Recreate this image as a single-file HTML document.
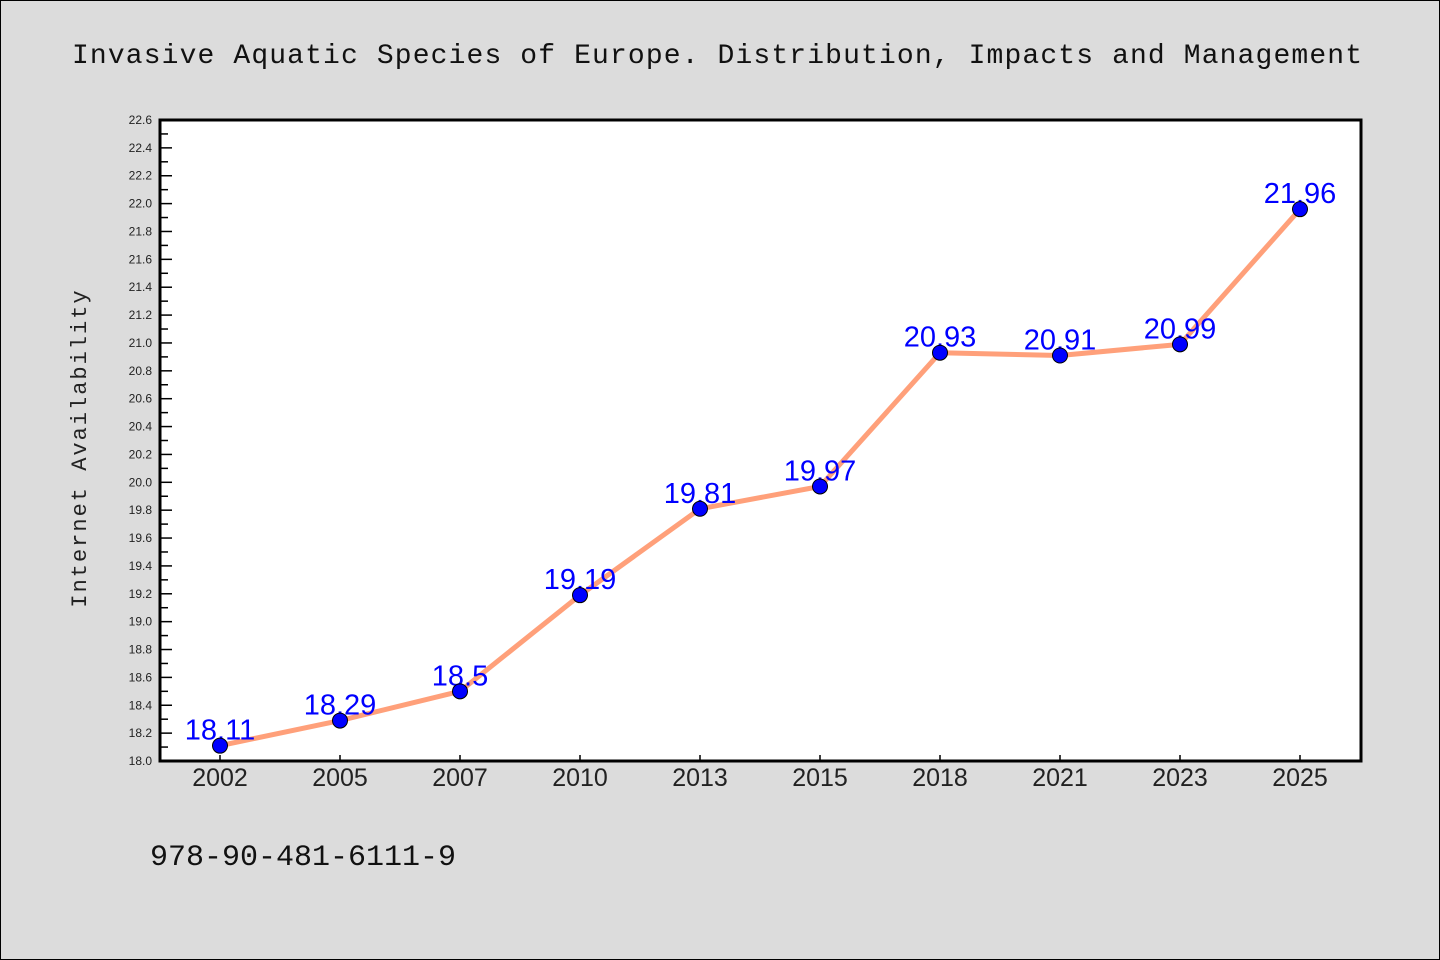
<!DOCTYPE html>
<html><head><meta charset="utf-8"><style>
body{margin:0;background:#dcdcdc;}
svg{display:block;}
</style></head><body>
<svg width="1440" height="960" xmlns="http://www.w3.org/2000/svg">
<rect x="0.5" y="0.5" width="1439" height="959" fill="#dcdcdc" stroke="#000"/>
<text x="72" y="63" textLength="1290" lengthAdjust="spacing" font-family="Liberation Mono, monospace" font-size="28" fill="#111">Invasive Aquatic Species of Europe. Distribution, Impacts and Management</text>
<rect x="160" y="120" width="1201" height="641" fill="#fff"/>
<g id="ticks"></g>
<g id="series"></g>
<rect x="160" y="120" width="1201" height="641" fill="none" stroke="#000" stroke-width="3"/>
<text transform="translate(86,448) rotate(-90)" text-anchor="middle" font-family="Liberation Mono, monospace" font-size="22" letter-spacing="2" fill="#222">Internet Availability</text>
<text x="150" y="865" font-family="Liberation Mono, monospace" font-size="30" fill="#111">978-90-481-6111-9</text>
</svg>
<script>
const categories=["2002","2005","2007","2010","2013","2015","2018","2021","2023","2025"];
const values=[18.11,18.29,18.5,19.19,19.81,19.97,20.93,20.91,20.99,21.96];
const labels=["18.11","18.29","18.5","19.19","19.81","19.97","20.93","20.91","20.99","21.96"];
const yMin=18.0,yMax=22.6;
const NS="http://www.w3.org/2000/svg";
const L=160,R=1361,T=120,B=761;
const xs=i=>220+i*(1300-220)/(categories.length-1);
const ys=v=>B-(v-yMin)/(yMax-yMin)*(B-T);
const tg=document.getElementById('ticks');
function mk(tag,a,p){const e=document.createElementNS(NS,tag);for(const k in a)e.setAttribute(k,a[k]);p.appendChild(e);return e;}
for(let k=0;k<=46;k++){
  const v=yMin+k*0.1,y=ys(v),major=k%2===0;
  const t=mk('line',{x1:L,x2:L+(major?12:8),y1:y,y2:y,stroke:'#000','stroke-width':1.5},tg);
  
  
  if(major){
    const tx=mk('text',{x:152,y:y+4,'text-anchor':'end','font-family':'Liberation Sans, sans-serif','font-size':12,fill:'#222'},tg);
    tx.textContent=v.toFixed(1);
    
    
  }
}
categories.forEach((c,i)=>{
  const x=xs(i);
  const t=mk('line',{x1:x,x2:x,y1:B,y2:B-6,stroke:'#000','stroke-width':1.5},tg);
  
  
  const tx=mk('text',{x:x,y:786,'text-anchor':'middle','font-family':'Liberation Sans, sans-serif','font-size':25,fill:'#222'},tg);
  tx.textContent=c;
  
  
});
const sg=document.getElementById('series');
const pl=mk('polyline',{points:values.map((v,i)=>xs(i)+','+ys(v)).join(' '),fill:'none',stroke:'#ffa07a','stroke-width':5,'stroke-linejoin':'round'},sg);


values.forEach((v,i)=>{
  const tx=mk('text',{x:xs(i),y:ys(v)-6,'text-anchor':'middle','font-family':'Liberation Sans, sans-serif','font-size':29,fill:'#0000ff'},sg);
  tx.textContent=labels[i];
  
  
});
values.forEach((v,i)=>{
  const c=mk('circle',{cx:xs(i),cy:ys(v),r:7.5,fill:'#0000ff',stroke:'#000','stroke-width':1},sg);
  
  
});
</script>
</body></html>
